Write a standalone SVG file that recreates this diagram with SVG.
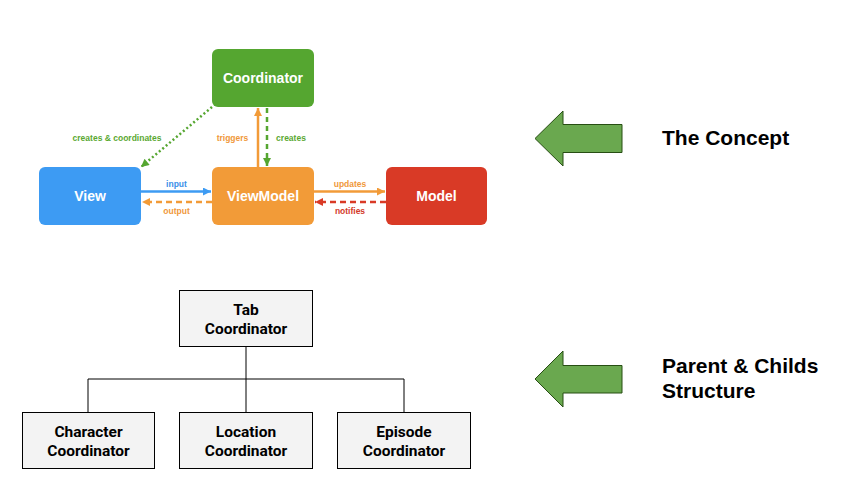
<svg xmlns="http://www.w3.org/2000/svg" width="859" height="489" viewBox="0 0 859 489">
<style>
.nt{font-family:"Liberation Sans",Arial,sans-serif;font-weight:bold;font-size:14px;fill:#fff;text-anchor:middle}
.lb{font-family:"Liberation Sans",Arial,sans-serif;font-weight:bold;font-size:8.5px;text-anchor:middle}
.bx{fill:#f3f3f3;stroke:#000;stroke-width:1}
.bt{font-family:Roboto,"Liberation Sans",sans-serif;font-weight:bold;font-size:15.5px;fill:#000;text-anchor:middle}
.tr{stroke:#000;stroke-width:1;fill:none}
.ga{fill:#6aa84f;stroke:#274e13;stroke-width:1}
.ht{font-family:"Liberation Sans",Arial,sans-serif;font-weight:bold;font-size:21px;fill:#000}
</style>
<defs>
<marker id="mb" viewBox="0 0 10 10" refX="10" refY="5" markerWidth="10" markerHeight="8" markerUnits="userSpaceOnUse" orient="auto"><path d="M0,0 L10,5 L0,10 z" fill="#3d9bf3"/></marker>
<marker id="mo" viewBox="0 0 10 10" refX="10" refY="5" markerWidth="10" markerHeight="8" markerUnits="userSpaceOnUse" orient="auto"><path d="M0,0 L10,5 L0,10 z" fill="#f29b38"/></marker>
<marker id="mr" viewBox="0 0 10 10" refX="10" refY="5" markerWidth="10" markerHeight="8" markerUnits="userSpaceOnUse" orient="auto"><path d="M0,0 L10,5 L0,10 z" fill="#d93a26"/></marker>
<marker id="mg" viewBox="0 0 10 10" refX="10" refY="5" markerWidth="10" markerHeight="8" markerUnits="userSpaceOnUse" orient="auto"><path d="M0,0 L10,5 L0,10 z" fill="#55a630"/></marker>
</defs>
<rect width="859" height="489" fill="#fff"/>

<g id="connectors">
<line x1="141" y1="191.5" x2="211" y2="191.5" stroke="#3d9bf3" stroke-width="2.5" marker-end="url(#mb)"/>
<line x1="212" y1="202" x2="142" y2="202" stroke="#f29b38" stroke-width="2.5" stroke-dasharray="6,4" marker-end="url(#mo)"/>
<line x1="314" y1="191.5" x2="385" y2="191.5" stroke="#f29b38" stroke-width="2.5" marker-end="url(#mo)"/>
<line x1="386" y1="202" x2="315" y2="202" stroke="#d93a26" stroke-width="2.5" stroke-dasharray="6,4" marker-end="url(#mr)"/>
<line x1="258" y1="167" x2="258" y2="108" stroke="#f29b38" stroke-width="2.5" marker-end="url(#mo)"/>
<line x1="267" y1="108" x2="267" y2="166" stroke="#55a630" stroke-width="2.5" stroke-dasharray="5,4" marker-end="url(#mg)"/>
<line x1="212" y1="107" x2="141" y2="167" stroke="#55a630" stroke-width="2.5" stroke-dasharray="2,2.5" marker-end="url(#mg)"/>
<text class="lb" x="117" y="141" fill="#5aa832">creates &amp; coordinates</text>
<text class="lb" x="232.5" y="141" fill="#f0983a">triggers</text>
<text class="lb" x="291" y="141" fill="#5aa832">creates</text>
<text class="lb" x="176.5" y="187" fill="#3b8fe8">input</text>
<text class="lb" x="176.5" y="214" fill="#f0983a">output</text>
<text class="lb" x="350" y="187" fill="#f0983a">updates</text>
<text class="lb" x="350" y="214" fill="#d33a2a">notifies</text>
<path class="tr" d="M246,346 V412 M88,412 V379 H404 V412"/>
</g>

<g id="coordinator"><rect x="212" y="49" width="102" height="58" rx="6" fill="#55a630"/><text class="nt" x="263" y="83">Coordinator</text></g>
<g id="view"><rect x="39" y="167" width="102" height="58" rx="6" fill="#3d9bf3"/><text class="nt" x="90" y="201">View</text></g>
<g id="viewmodel"><rect x="212" y="167" width="102" height="58" rx="6" fill="#f29b38"/><text class="nt" x="263" y="201">ViewModel</text></g>
<g id="model"><rect x="386" y="167" width="101" height="58" rx="6" fill="#d93a26"/><text class="nt" x="436.5" y="201">Model</text></g>

<g id="tab"><rect class="bx" x="179.5" y="290.5" width="133" height="56"/><text class="bt" x="246" y="315">Tab</text><text class="bt" x="246" y="334">Coordinator</text></g>
<g id="character"><rect class="bx" x="22.5" y="412.5" width="132" height="56"/><text class="bt" x="88.5" y="437">Character</text><text class="bt" x="88.5" y="456">Coordinator</text></g>
<g id="location"><rect class="bx" x="179.5" y="412.5" width="133" height="56"/><text class="bt" x="246" y="437">Location</text><text class="bt" x="246" y="456">Coordinator</text></g>
<g id="episode"><rect class="bx" x="337.5" y="412.5" width="133" height="56"/><text class="bt" x="404" y="437">Episode</text><text class="bt" x="404" y="456">Coordinator</text></g>

<g id="arrow-concept"><polygon class="ga" points="535,138.5 563,111 563,124.5 622,124.5 622,152.5 563,152.5 563,166"/></g>
<g id="label-concept"><text class="ht" x="662" y="145">The Concept</text></g>
<g id="arrow-structure"><polygon class="ga" points="535,379 563,351 563,365.5 622,365.5 622,393 563,393 563,407"/></g>
<g id="label-structure"><text class="ht" x="662" y="373">Parent &amp; Childs</text><text class="ht" x="662" y="398">Structure</text></g>
</svg>
